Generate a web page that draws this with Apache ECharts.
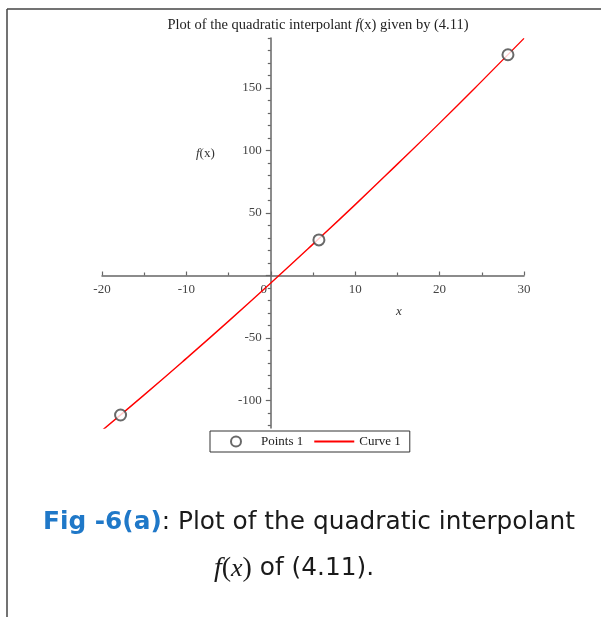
<!DOCTYPE html>
<html>
<head>
<meta charset="utf-8">
<script src="https://cdn.jsdelivr.net/npm/echarts@6/dist/echarts.min.js"></script>
<style>
  html, body { margin: 0; padding: 0; background: #ffffff; }
  #chart { width: 601px; height: 617px; }
</style>
</head>
<body>
<div id="chart"></div>
<script>
// Interpolation nodes (x, f(x))
const nodeX = [-17.8, 5.7, 28.1];
const nodeY = [-111.6, 28.5, 176.6];

// Samples of the interpolating curve f(x)
const curveX = [-20, -15, -10, -5, 0, 5, 10, 15, 20, 25, 30];
const curveY = [-124, -95.5, -66.3, -36.5, -6, 25.1, 56.7, 89.1, 121.9, 155.5, 189.7];

// Axis ticks
const yMajor = [-100, -50, 0, 50, 100, 150];
const yLabels = [-100, -50, 50, 100, 150];
const yMinor = [-120, -110, -90, -80, -70, -60, -40, -30, -20, -10, 10, 20, 30, 40, 60, 70, 80, 90, 110, 120, 130, 140, 160, 170, 180, 190];

const xMin = -20, xMax = 30, yMin = -122, yMax = 190;
const gridLeft = 102, gridTop = 38, gridW = 422, gridH = 390;

// Axes cross at the origin: shift them from the grid edges to x = 0 / y = 0
const yAxisShift = -gridW * (0 - xMin) / (xMax - xMin);
const xAxisShift = -gridH * (0 - yMin) / (yMax - yMin);

const serif = '"Liberation Serif", "DejaVu Serif", serif';
const sans = '"DejaVu Sans", "Open Sans", sans-serif';

const chart = echarts.init(document.getElementById('chart'), null, { renderer: 'canvas' });

chart.setOption({
  backgroundColor: '#ffffff',
  animation: false,
  title: [
    {
      text: '{t|Plot of the quadratic interpolant }{i|f}{t|(x) given by (4.11)}',
      left: 313, top: 13, textAlign: 'center',
      textStyle: {
        fontWeight: 'normal',
        rich: {
          t: { fontFamily: serif, fontSize: 14.5, fontWeight: 'normal', color: '#222' },
          i: { fontFamily: serif, fontSize: 14.5, fontWeight: 'normal', fontStyle: 'italic', color: '#222' }
        }
      }
    },
    {
      text: '{b|Fig -6(a)}{n|: Plot of the quadratic interpolant}',
      left: 304, top: 505, textAlign: 'center',
      textStyle: {
        fontWeight: 'normal',
        rich: {
          b: { fontFamily: sans, fontSize: 24.8, fontWeight: 'bold', color: '#1f78c8' },
          n: { fontFamily: sans, fontSize: 24.8, fontWeight: 'normal', color: '#1a1a1a' }
        }
      }
    },
    {
      text: '{m|f}{p|(}{mx|x}{p|)}{n| of (4.11).}',
      left: 289, top: 550, textAlign: 'center',
      textStyle: {
        fontWeight: 'normal',
        rich: {
          m: { fontFamily: serif, fontSize: 28, fontWeight: 'normal', fontStyle: 'italic', color: '#1a1a1a' },
          mx: { fontFamily: serif, fontSize: 26, fontWeight: 'normal', fontStyle: 'italic', color: '#1a1a1a' },
          p: { fontFamily: serif, fontSize: 28, fontWeight: 'normal', color: '#1a1a1a' },
          n: { fontFamily: sans, fontSize: 24.8, fontWeight: 'normal', color: '#1a1a1a' }
        }
      }
    }
  ],
  legend: {
    left: 210, top: 431,
    orient: 'horizontal',
    itemWidth: 40, itemHeight: 10, itemGap: 10,
    padding: [4, 9, 4, 20],
    borderColor: '#333', borderWidth: 1,
    textStyle: { fontFamily: serif, fontSize: 13, color: '#222' },
    data: [
      { name: 'Points 1', icon: 'emptyCircle' },
      { name: 'Curve 1', itemStyle: { color: 'rgba(0,0,0,0)', borderColor: 'rgba(0,0,0,0)', borderWidth: 0 } }
    ]
  },
  grid: { left: gridLeft, top: gridTop, width: gridW, height: gridH, containLabel: false },
  xAxis: {
    type: 'value', min: xMin, max: xMax, interval: 10,
    offset: xAxisShift,
    axisLine: { onZero: false, lineStyle: { color: '#666', width: 1.5 } },
    axisTick: { inside: true, length: 4, lineStyle: { color: '#666', width: 1.2 } },
    minorTick: { show: true, splitNumber: 2, length: 3, lineStyle: { color: '#666', width: 1.2 } },
    splitLine: { show: false },
    axisLabel: {
      margin: 8,
      fontFamily: serif, fontSize: 13, color: '#444',
      formatter: function (v) { return v === 0 ? '{z|0}' : String(v); },
      rich: { z: { fontFamily: serif, fontSize: 13, color: '#444', padding: [0, 14, 0, 0] } }
    }
  },
  yAxis: [
    {
      type: 'value', min: yMin, max: yMax, position: 'left',
      offset: yAxisShift,
      axisLine: { onZero: false, lineStyle: { color: '#666', width: 1.5 } },
      axisTick: { length: 5, customValues: yMajor, lineStyle: { color: '#666', width: 1.2 } },
      splitLine: { show: false },
      axisLabel: {
        margin: 9, customValues: yLabels,
        fontFamily: serif, fontSize: 13, color: '#444'
      }
    },
    {
      type: 'value', min: yMin, max: yMax, position: 'left',
      offset: yAxisShift,
      axisLine: { show: false, onZero: false },
      axisTick: { length: 3, customValues: yMinor, lineStyle: { color: '#666', width: 1.2 } },
      splitLine: { show: false },
      axisLabel: { show: false }
    }
  ],
  graphic: [
    { type: 'line', shape: { x1: 7, y1: 9, x2: 601, y2: 9 }, style: { stroke: '#444', lineWidth: 1.5 } },
    { type: 'line', shape: { x1: 7, y1: 9, x2: 7, y2: 617 }, style: { stroke: '#444', lineWidth: 1.5 } },
    {
      type: 'text', left: 196, top: 147,
      style: {
        text: '{i|f}{t|(x)}',
        rich: {
          i: { fontFamily: serif, fontSize: 13, fontStyle: 'italic', fill: '#333' },
          t: { fontFamily: serif, fontSize: 13, fill: '#333' }
        }
      }
    },
    {
      type: 'text', left: 396, top: 305,
      style: { text: 'x', font: 'italic 13px ' + serif, fill: '#333' }
    }
  ],
  series: [
    {
      name: 'Curve 1', type: 'line',
      data: curveX.map((x, i) => [x, curveY[i]]),
      symbol: 'none', smooth: true,
      lineStyle: { color: '#ff0000', width: 1.4 },
      itemStyle: { color: '#ff0000' },
      z: 2
    },
    {
      name: 'Points 1', type: 'scatter',
      data: nodeX.map((x, i) => [x, nodeY[i]]),
      symbol: 'emptyCircle', symbolSize: 11,
      itemStyle: { color: '#444', borderColor: '#444', borderWidth: 1.3 },
      z: 3
    }
  ]
});
</script>
</body>
</html>
